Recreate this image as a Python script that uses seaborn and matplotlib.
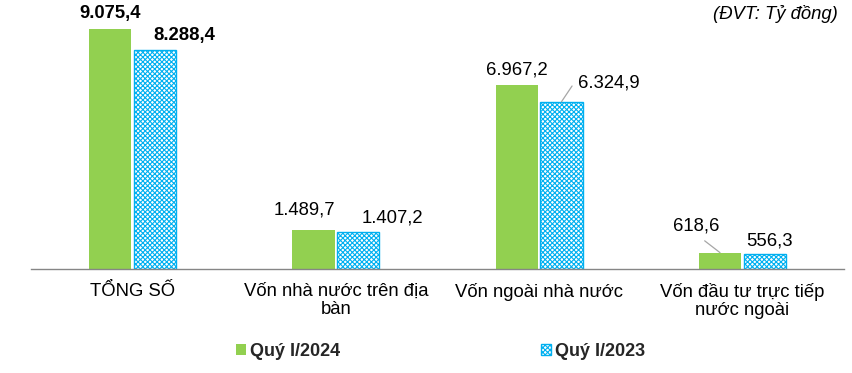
import matplotlib
matplotlib.use("Agg")
import matplotlib.pyplot as plt
import seaborn as sns
import pandas as pd
from matplotlib.patches import Patch

categories = ["TỔNG SỐ", "Vốn nhà nước trên địa\nbàn", "Vốn ngoài nhà nước",
              "Vốn đầu tư trực tiếp\nnước ngoài"]
series_names = ["Quý I/2024", "Quý I/2023"]
values_2024 = [9075.4, 1489.7, 6967.2, 618.6]
values_2023 = [8288.4, 1407.2, 6324.9, 556.3]
labels_2024 = ["9.075,4", "1.489,7", "6.967,2", "618,6"]
labels_2023 = ["8.288,4", "1.407,2", "6.324,9", "556,3"]
unit_text = "(ĐVT: Tỷ đồng)"

df = pd.DataFrame({
    "cat": categories * 2,
    "series": [series_names[0]] * 4 + [series_names[1]] * 4,
    "value": values_2024 + values_2023,
})

sns.set_theme(style="white")
plt.rcParams["font.family"] = ["Liberation Sans", "DejaVu Sans"]
plt.rcParams["hatch.linewidth"] = 0.8

FS = 13.3
W, H = 853, 373
fig = plt.figure(figsize=(W / 100, H / 100), dpi=100)
ax_left, ax_right, ax_base, ax_top = 31, 844, 269, 4
ax = fig.add_axes([ax_left / W, (H - ax_base) / H, (ax_right - ax_left) / W,
                   (ax_base - ax_top) / H])

green = "#92D050"
blue = "#00B0F0"
sns.barplot(data=df, x="cat", y="value", hue="series", order=categories,
            hue_order=series_names, palette=[green, blue], width=0.44,
            dodge=True, ax=ax, legend=False, saturation=1)

bar_w = 0.207
for ci, cont in enumerate(ax.containers):
    for p in cont.patches:
        cx = p.get_x() + p.get_width() / 2
        p.set_width(bar_w)
        p.set_x(cx - bar_w / 2)
        if ci == 0:
            p.set_facecolor(green)
            p.set_edgecolor("none")
            p.set_linewidth(0)
        else:
            p.set_facecolor("white")
            p.set_edgecolor(blue)
            p.set_hatch("xxxxxxx")
            p.set_linewidth(1.0)

ax.set_xlim(-0.5, 3.5)
ax.set_ylim(0, 10021)
ax.set_xlabel("")
ax.set_ylabel("")
ax.set_yticks([])
ax.tick_params(axis="x", length=0, pad=10)
ax.set_xticks(range(4))
ax.set_xticklabels(categories, fontsize=FS, color="black", linespacing=1.1)
for s in ["top", "left", "right"]:
    ax.spines[s].set_visible(False)
ax.spines["bottom"].set_color("#868686")
ax.spines["bottom"].set_linewidth(1.0)

# data labels (offsets in pixels relative to bar top centre)
off_2024 = [(0, 16), (-9, 20), (0, 15), (-24, 27)]
off_2023 = [(29, 14), (34, 14), (47, 19), (5, 13)]
lead_2024 = [False, False, False, True]
lead_2023 = [False, False, True, False]

for ci, (cont, labs, offs, leads) in enumerate(
        [(ax.containers[0], labels_2024, off_2024, lead_2024),
         (ax.containers[1], labels_2023, off_2023, lead_2023)]):
    for i, (p, lab, off, lead) in enumerate(zip(cont.patches, labs, offs, leads)):
        x = p.get_x() + p.get_width() / 2
        y = p.get_height()
        kw = {}
        if lead:
            if ci == 1:
                kw["arrowprops"] = dict(arrowstyle="-", color="#a6a6a6", lw=0.9,
                                        relpos=(0, 0.8), shrinkA=3, shrinkB=0)
            else:
                kw["arrowprops"] = dict(arrowstyle="-", color="#a6a6a6", lw=0.9,
                                        relpos=(0.5, 0), shrinkA=4, shrinkB=0)
        ax.annotate(lab, xy=(x, y), xytext=off, textcoords="offset pixels",
                    ha="center", va="center", fontsize=FS, color="black",
                    fontweight="bold" if i == 0 else "normal",
                    annotation_clip=False, **kw)

fig.text(838 / W, 1 - 14 / H, unit_text, ha="right", va="center",
         fontsize=FS, fontstyle="italic", color="black")

handles = [Patch(facecolor=green, edgecolor="none"),
           Patch(facecolor="white", edgecolor=blue, hatch="xxxxxxx", linewidth=1.0)]
leg_x = [236, 541]
for h, name, lx in zip(handles, series_names, leg_x):
    leg = fig.legend([h], [name], loc="center left",
                     bbox_to_anchor=(lx / W, 1 - 351 / H), frameon=False,
                     handlelength=0.55, handleheight=0.55, handletextpad=0.25,
                     borderaxespad=0, borderpad=0,
                     prop={"size": 13, "weight": "bold"})

fig.savefig("out.png", dpi=100)
